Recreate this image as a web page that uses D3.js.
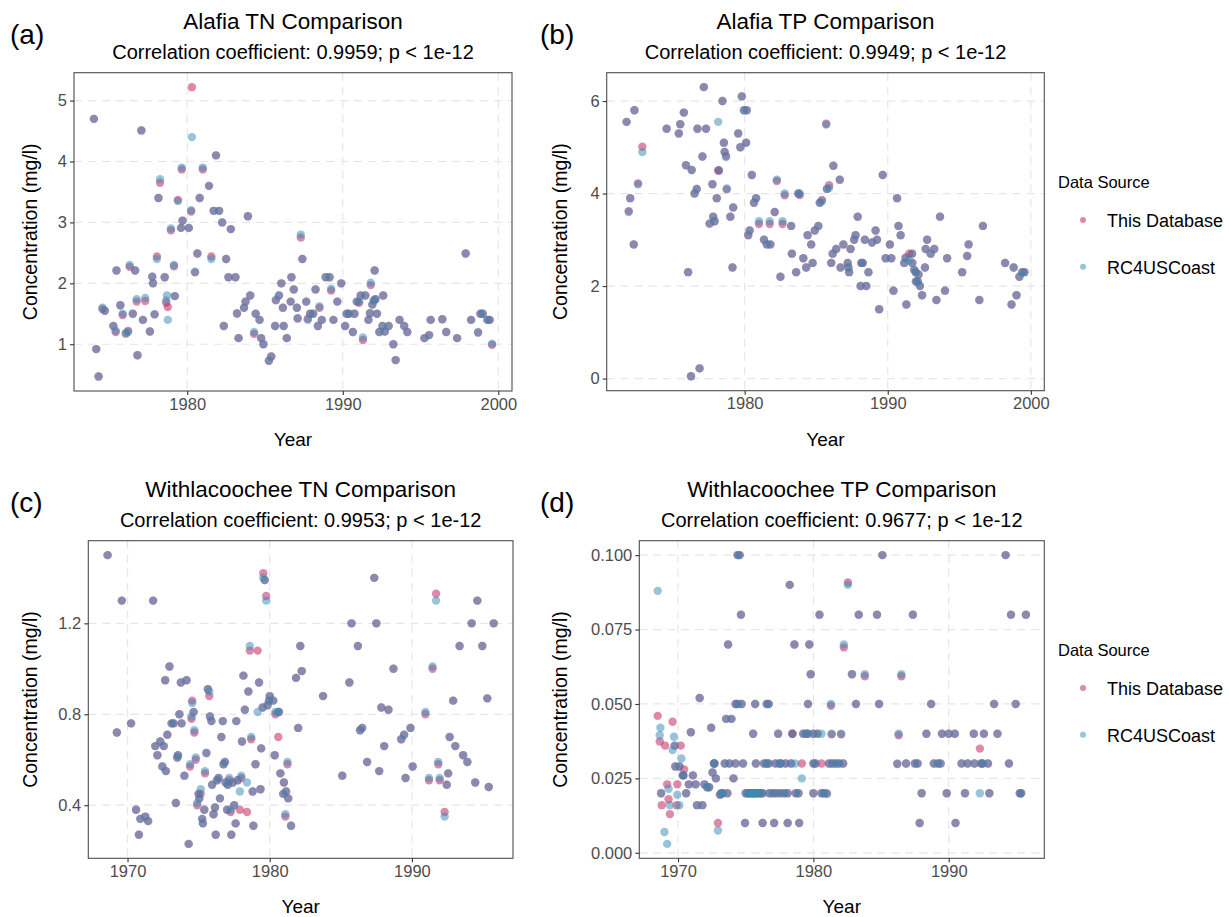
<!DOCTYPE html>
<html>
<head>
<meta charset="utf-8">
<script src="https://cdn.jsdelivr.net/npm/d3@7"></script>
<style>
  body { margin: 0; background: #fff; }
  svg { display: block; font-family: "Liberation Sans", Arial, sans-serif; }
</style>
</head>
<body>
<script>
// ---- data ----
// Alafia TN
var alafiaTnYear = [1974.0,1974.15,1974.3,1974.55,1974.7,1975.25,1975.4,1975.45,1975.7,1975.85,
  1976.05,1976.2,1976.3,1976.5,1976.65,1976.75,1976.8,1977.05,1977.15,1977.3,
  1977.6,1977.75,1977.8,1977.9,1978.05,1978.15,1978.25,1978.55,1978.65,1978.75,
  1978.7,1978.95,1979.15,1979.2,1979.4,1979.6,1979.65,1979.7,1980.1,1980.25,
  1980.3,1980.5,1980.65,1980.8,1981.0,1981.4,1981.55,1981.7,1981.85,1982.05,
  1982.25,1982.35,1982.5,1982.65,1982.8,1983.1,1983.2,1983.3,1983.65,1983.75,
  1983.9,1984.05,1984.3,1984.4,1984.65,1984.75,1984.9,1985.25,1985.4,1985.65,
  1985.7,1985.9,1986.05,1986.15,1986.2,1986.4,1986.65,1986.7,1986.85,1987.05,
  1987.1,1987.3,1987.4,1987.65,1987.75,1987.9,1988.1,1988.25,1988.4,1988.5,
  1988.65,1988.9,1989.15,1989.25,1989.4,1989.65,1989.9,1990.15,1990.25,1990.4,
  1990.65,1990.75,1990.9,1991.05,1991.15,1991.3,1991.45,1991.65,1991.75,1991.8,
  1991.9,1992.0,1992.05,1992.1,1992.2,1992.35,1992.55,1992.6,1992.7,1992.95,
  1993.25,1993.4,1993.65,1993.95,1994.15,1995.25,1995.55,1995.65,1996.4,1996.65,
  1997.35,1997.9,1998.25,1998.7,1998.85,1999.0,1999.3,1999.45,1999.6];
var alafiaTnThisDb = [4.70,0.92,0.47,1.58,1.55,1.30,1.20,2.21,1.64,1.48,
  1.17,1.22,2.27,1.50,2.21,1.70,0.82,4.51,1.40,1.71,
  1.21,2.11,2.00,1.49,2.44,3.40,3.65,2.10,1.68,1.61,
  null,2.87,2.28,1.79,3.37,2.91,3.87,3.03,2.91,3.18,
  5.22,2.18,2.49,3.40,3.87,3.60,2.44,3.19,4.10,3.19,
  3.00,1.30,2.40,2.10,2.89,2.10,1.51,1.10,1.60,1.70,
  3.10,1.80,1.17,1.50,1.40,1.10,1.00,0.73,0.80,1.30,
  1.72,1.80,2.00,1.60,1.30,1.10,1.70,2.10,1.90,1.60,
  1.42,2.75,2.40,1.70,1.42,1.50,1.50,1.90,1.30,1.60,
  1.40,2.10,2.10,1.88,1.40,1.70,2.00,1.30,1.50,1.50,
  1.20,1.50,1.70,1.68,1.80,1.07,1.80,1.40,1.51,1.97,
  1.65,1.72,2.21,1.74,1.50,1.20,1.30,1.80,1.21,1.30,
  1.00,0.74,1.40,1.30,1.20,1.10,1.15,1.40,1.41,1.20,
  1.10,2.49,1.40,1.19,1.50,1.50,1.40,1.40,0.99];
var alafiaTnRc4 = [4.70,0.92,0.47,1.60,1.55,1.30,1.22,2.21,1.64,1.50,
  1.19,1.20,2.30,1.50,2.21,1.74,0.82,4.51,1.40,1.76,
  1.21,2.11,2.00,1.49,2.40,3.40,3.71,2.10,1.72,1.40,
  1.80,2.90,2.30,1.79,3.35,2.91,3.90,3.03,2.91,3.20,
  4.40,2.19,2.49,3.40,3.90,3.60,2.40,3.19,4.10,3.19,
  3.00,1.30,2.40,2.10,2.89,2.10,1.50,1.10,1.60,1.70,
  3.10,1.80,1.20,1.50,1.40,1.10,1.00,0.73,0.80,1.30,
  1.73,1.80,2.00,1.60,1.30,1.10,1.70,2.10,1.90,1.60,
  1.43,2.80,2.40,1.70,1.40,1.50,1.50,1.90,1.30,1.62,
  1.40,2.10,2.10,1.91,1.40,1.70,2.00,1.30,1.50,1.50,
  1.20,1.50,1.70,1.70,1.80,1.11,1.80,1.40,1.51,2.01,
  1.65,1.72,2.21,1.74,1.50,1.20,1.30,1.80,1.21,1.30,
  1.00,0.74,1.40,1.30,1.20,1.10,1.15,1.40,1.41,1.20,
  1.10,2.49,1.40,1.20,1.50,1.50,1.40,1.40,1.01];

// Alafia TP
var alafiaTpYear = [1971.75,1971.9,1972.0,1972.25,1972.3,1972.55,1972.85,1974.55,1975.4,1975.5,
  1975.75,1975.9,1976.05,1976.25,1976.3,1976.5,1976.65,1976.7,1976.85,1977.05,
  1977.15,1977.3,1977.55,1977.75,1977.8,1977.9,1978.05,1978.15,1978.2,1978.45,
  1978.55,1978.6,1978.7,1978.75,1979.0,1979.15,1979.2,1979.55,1979.7,1979.8,
  1979.95,1980.15,1980.1,1980.25,1980.35,1980.5,1980.65,1980.8,1981.0,1981.35,
  1981.55,1981.75,1981.8,1982.1,1982.25,1982.5,1982.65,1982.8,1983.25,1983.3,
  1983.6,1983.75,1983.85,1984.1,1984.3,1984.4,1984.65,1984.75,1984.9,1985.15,
  1985.25,1985.4,1985.7,1985.75,1985.9,1986.05,1986.15,1986.2,1986.4,1986.65,
  1986.7,1986.9,1987.2,1987.25,1987.3,1987.4,1987.65,1987.75,1987.9,1988.1,
  1988.15,1988.25,1988.4,1988.5,1988.65,1988.9,1989.15,1989.25,1989.4,1989.65,
  1989.85,1990.15,1990.25,1990.4,1990.65,1990.75,1990.9,1991.15,1991.25,1991.3,
  1991.5,1991.7,1991.72,1991.85,1991.95,1991.97,1992.1,1992.15,1992.25,1992.4,
  1992.6,1992.65,1992.75,1993.0,1993.25,1993.4,1993.65,1994.0,1994.15,1995.2,
  1995.55,1995.65,1996.4,1996.65,1998.2,1998.65,1998.8,1999.0,1999.2,1999.4,
  1999.55];
var alafiaTpThisDb = [5.55,3.62,3.90,2.90,5.80,4.22,5.01,5.40,5.30,5.50,
  5.75,4.61,2.30,0.05,4.51,4.00,4.10,5.40,0.22,4.80,
  6.30,5.40,3.35,4.20,3.50,3.40,3.90,4.50,4.50,6.00,
  5.10,4.90,4.81,4.09,3.50,2.40,3.70,5.30,5.00,6.10,
  5.80,5.80,5.10,3.10,3.20,4.40,3.80,3.90,3.34,3.00,
  2.90,3.34,2.90,3.60,4.27,2.20,3.34,3.96,3.30,2.70,
  2.30,4.00,3.97,2.60,2.40,3.10,2.90,2.50,3.20,3.30,
  3.80,3.86,5.51,4.10,4.18,2.50,2.70,4.60,2.80,4.30,
  2.40,2.90,2.50,2.40,2.30,2.80,3.00,3.10,3.50,2.00,
  2.50,2.50,3.00,2.00,2.30,2.94,3.20,3.00,1.50,4.40,
  2.60,2.90,2.60,1.90,3.90,3.30,3.10,2.50,2.62,1.60,
  2.70,2.70,2.50,2.35,2.30,2.10,2.10,2.25,2.00,1.80,
  2.40,2.80,3.00,2.70,2.80,1.70,3.50,1.90,2.60,2.30,
  2.65,2.90,1.70,3.30,2.50,1.60,2.40,1.80,2.20,2.30,
  2.30];
var alafiaTpRc4 = [5.55,3.60,3.90,2.90,5.80,4.20,4.90,5.40,5.30,5.50,
  5.75,4.61,2.30,0.05,4.51,4.00,4.10,5.40,0.22,4.80,
  6.30,5.40,3.35,4.20,3.50,3.40,3.90,5.55,4.50,6.00,
  5.10,4.90,4.79,4.11,3.50,2.40,3.70,5.30,5.00,6.10,
  5.80,5.80,5.10,3.10,3.20,4.40,3.80,3.90,3.40,3.00,
  2.90,3.40,2.90,3.60,4.30,2.20,3.40,4.00,3.30,2.70,
  2.30,4.00,4.00,2.60,2.40,3.10,2.90,2.50,3.20,3.30,
  3.80,3.83,5.49,4.10,4.12,2.50,2.70,4.60,2.80,4.30,
  2.40,2.90,2.50,2.40,2.30,2.80,3.00,3.10,3.50,2.00,
  2.50,2.50,3.00,2.00,2.30,2.94,3.20,3.00,1.50,4.40,
  2.60,2.90,2.60,1.90,3.90,3.30,3.10,2.50,2.60,1.60,
  2.55,2.70,2.50,2.35,2.30,2.10,2.10,2.25,2.00,1.80,
  2.40,2.80,3.00,2.70,2.80,1.70,3.50,1.90,2.60,2.30,
  2.65,2.90,1.70,3.30,2.50,1.60,2.40,1.80,2.20,2.30,
  2.30];

// Withlacoochee TN
var withTnYear = [1968.6,1969.25,1969.6,1970.25,1970.6,1970.8,1970.9,1971.25,1971.45,1971.8,
  1971.95,1972.1,1972.3,1972.45,1972.55,1972.65,1972.7,1972.8,1972.95,1973.1,
  1973.25,1973.4,1973.5,1973.55,1973.65,1973.75,1973.8,1974.0,1974.15,1974.3,
  1974.4,1974.5,1974.55,1974.65,1974.7,1974.8,1974.9,1975.0,1975.05,1975.15,
  1975.25,1975.3,1975.4,1975.45,1975.55,1975.65,1975.75,1975.8,1975.9,1975.95,
  1976.05,1976.15,1976.2,1976.3,1976.4,1976.5,1976.6,1976.7,1976.75,1976.85,
  1976.9,1977.0,1977.05,1977.15,1977.25,1977.3,1977.4,1977.5,1977.6,1977.65,
  1977.75,1977.9,1978.0,1978.05,1978.15,1978.25,1978.4,1978.5,1978.6,1978.7,
  1978.8,1978.85,1979.0,1979.15,1979.25,1979.35,1979.4,1979.5,1979.55,1979.65,
  1979.75,1979.85,1979.95,1980.0,1980.25,1980.35,1980.4,1980.6,1980.65,1980.75,
  1980.95,1981.0,1981.1,1981.15,1981.25,1981.3,1981.5,1981.85,1982.0,1982.15,
  1982.25,1983.75,1985.1,1985.6,1985.75,1986.2,1986.35,1986.5,1986.85,1987.35,
  1987.5,1987.7,1987.85,1988.05,1988.35,1988.7,1989.25,1989.45,1989.55,1989.9,
  1990.05,1990.95,1991.2,1991.45,1991.7,1991.85,1991.95,1992.3,1992.45,1992.55,
  1992.65,1992.9,1993.05,1993.35,1993.6,1993.9,1994.2,1994.45,1994.6,1994.95,
  1995.3,1995.4,1995.75];
var withTnThisDb = [1.50,0.72,1.30,0.76,0.38,0.27,0.34,0.35,0.33,1.30,
  0.66,0.62,0.68,0.57,0.66,0.95,0.55,0.71,1.01,0.76,
  0.76,0.41,0.61,0.62,0.80,0.94,0.76,0.53,0.95,0.23,
  0.57,0.78,0.86,0.81,0.72,0.60,0.40,0.45,0.43,0.45,
  0.34,0.32,0.38,0.54,0.63,0.91,0.88,0.79,0.77,0.49,
  0.36,0.39,0.27,0.51,0.52,0.43,0.70,0.77,0.58,0.59,
  0.50,0.38,0.49,0.51,0.37,0.27,0.50,0.40,0.32,0.77,
  0.51,0.38,0.52,0.68,0.97,0.82,0.37,0.90,1.08,0.69,
  0.46,0.31,0.58,1.08,0.94,0.47,0.65,0.83,1.42,1.39,
  1.32,0.84,0.86,0.88,0.86,0.62,0.80,0.70,0.81,0.54,
  0.45,0.50,0.35,0.46,0.58,0.43,0.31,0.96,0.74,1.10,
  0.99,0.88,0.53,0.94,1.20,1.10,0.73,0.74,0.59,1.40,
  1.20,0.55,0.83,0.66,0.82,1.00,0.69,0.71,0.52,0.74,
  0.57,0.80,0.51,1.00,1.33,0.58,0.51,0.37,0.49,0.54,
  0.70,0.86,0.66,1.10,0.62,0.59,1.20,0.50,1.30,1.10,
  0.87,0.48,1.20];
var withTnRc4 = [1.50,0.72,1.30,0.76,0.38,0.27,0.34,0.35,0.33,1.30,
  0.66,0.62,0.68,0.57,0.66,0.95,0.55,0.71,1.01,0.76,
  0.76,0.41,0.61,0.62,0.80,0.94,0.76,0.53,0.95,0.23,
  0.58,0.79,0.85,0.81,0.73,0.61,0.41,0.45,0.43,0.47,
  0.34,0.32,0.38,0.55,0.63,0.91,0.90,0.79,0.77,0.49,
  0.36,0.39,0.27,0.51,0.52,0.43,0.70,0.77,0.58,0.59,
  0.50,0.38,0.49,0.52,0.38,0.27,0.50,0.40,0.32,0.77,
  0.51,0.46,0.53,0.68,0.97,0.82,0.50,0.90,1.10,0.70,
  0.46,0.31,0.58,0.81,0.94,0.47,0.65,0.83,1.40,1.39,
  1.30,0.84,0.86,0.88,0.86,0.62,0.81,0.81,0.81,0.54,
  0.45,0.50,0.36,0.46,0.59,0.43,0.31,0.96,0.74,1.10,
  0.99,0.88,0.53,0.94,1.20,1.10,0.73,0.74,0.59,1.40,
  1.20,0.55,0.83,0.66,0.82,1.00,0.69,0.71,0.52,0.74,
  0.57,0.81,0.52,1.01,1.30,0.59,0.52,0.35,0.49,0.54,
  0.70,0.86,0.66,1.10,0.62,0.59,1.20,0.50,1.30,1.10,
  0.87,0.48,1.20];

// Withlacoochee TP
var withTpYear = [1968.5,1968.5,1968.7,1968.65,1968.65,1968.75,1968.8,1969.05,1969.0,1969.2,
  1969.2,1969.3,1969.3,1969.4,1969.4,1969.6,1969.7,1969.6,1969.75,1969.8,
  1969.95,1969.95,1969.9,1970.1,1970.2,1970.25,1970.1,1970.45,1970.35,1970.4,
  1970.6,1970.8,1970.95,1971.1,1971.3,1971.4,1971.8,1971.6,1971.95,1972.15,
  1972.3,1972.45,1972.55,1972.65,1972.7,1972.8,1972.95,1973.1,1973.2,1973.3,
  1973.45,1973.55,1973.7,1973.65,1973.8,1973.95,1974.1,1974.25,1974.25,1974.4,
  1974.55,1974.65,1974.4,1974.7,1974.8,1975.55,1975.7,1975.75,1976.35,1976.55,
  1976.7,1976.55,1976.7,1977.2,1977.4,1977.5,1977.6,1977.95,1978.25,1978.35,
  1978.45,1978.45,1978.6,1978.65,1979.15,1979.15,1979.25,1979.45,1979.6,1979.6,
  1979.7,1979.8,1980.0,1980.0,1980.15,1980.3,1980.45,1980.6,1980.6,1981.15,
  1981.3,1981.35,1981.4,1981.65,1981.9,1982.05,1982.2,1982.25,1982.55,1982.85,
  1983.15,1983.35,1983.8,1984.7,1984.85,1985.1,
  1975.0,1975.15,1975.25,1975.4,1975.5,1975.6,1975.7,1975.8,1976.0,1976.1,
  1976.25,1976.75,1977.0,1977.25,1977.55,1977.85,1978.1,1978.7,1978.9,1980.0,
  1980.6,1980.8,1981.0,1974.95,1976.25,1977.1,1978.1,1978.95,
  1986.2,1986.3,1986.5,1986.85,1987.35,1987.5,1987.7,1987.85,1988.0,1988.35,
  1988.7,1988.9,1989.2,1989.4,1989.5,1989.85,1990.0,1990.45,1990.5,1990.95,
  1991.2,1991.4,1991.85,1991.9,1992.3,1992.3,1992.4,1992.5,1992.6,1992.9,
  1993.0,1993.35,1993.6,1994.2,1994.45,1994.6,1994.95,1995.25,1995.35,1995.7];
var withTpThisDb = [null,0.046,null,null,0.0374,0.020,0.016,0.036,null,null,
  0.023,null,0.018,0.013,null,0.044,null,null,0.036,0.029,
  0.023,null,0.016,null,0.036,null,0.029,0.028,0.026,0.026,
  0.020,0.023,0.0405,0.026,0.023,0.016,0.016,0.052,0.023,0.022,
  0.022,0.042,0.027,0.030,0.030,0.025,0.010,0.0195,0.020,0.020,
  0.030,0.045,0.070,0.020,0.030,0.045,0.025,0.050,0.030,0.100,
  0.100,0.080,0.050,0.050,0.030,0.040,0.050,0.030,0.030,0.030,
  0.030,0.050,0.050,0.030,0.040,0.030,0.030,0.030,0.090,0.030,
  0.040,0.040,0.070,null,0.030,null,0.040,0.040,0.040,0.050,
  0.070,0.060,0.040,0.030,0.030,0.040,0.080,null,0.030,0.030,
  0.0494,0.0398,0.030,0.030,0.030,0.0398,0.030,0.069,0.0908,0.060,
  0.050,0.080,0.0593,0.080,0.050,0.100,
  0.020,0.020,0.020,0.020,0.020,0.020,0.020,0.020,0.020,0.020,
  0.020,0.020,0.020,0.020,0.020,0.020,0.020,0.020,0.020,0.020,
  0.020,0.020,0.0198,0.010,0.010,0.010,0.010,0.010,
  0.0298,0.0395,0.0593,0.030,0.080,0.030,0.030,0.010,0.020,0.040,
  0.050,0.030,0.030,0.030,0.040,0.020,0.040,0.040,0.010,0.030,
  0.020,0.030,0.040,0.030,0.035,null,0.030,0.030,0.040,0.030,
  0.020,0.050,0.040,0.100,0.030,0.080,0.050,0.020,0.020,0.080];
var withTpRc4 = [0.088,null,0.042,0.0395,null,0.020,null,null,0.007,0.003,
  null,0.0215,null,null,0.016,null,0.039,0.0345,0.036,0.029,
  null,0.0195,null,0.016,null,0.0317,0.029,null,0.026,0.026,
  0.020,0.023,0.0405,0.026,0.023,0.016,0.016,0.052,0.023,0.022,
  0.022,0.042,0.027,0.030,0.030,0.025,0.0075,0.0195,0.020,0.020,
  0.030,0.045,0.070,0.020,0.030,0.045,0.025,0.050,0.030,0.100,
  0.100,0.080,0.050,0.050,0.030,0.040,0.050,0.030,0.030,0.030,
  0.030,0.050,0.050,0.030,0.040,0.030,0.030,0.030,0.090,0.030,
  0.040,null,0.070,0.030,null,0.025,0.040,0.040,0.040,0.050,
  0.070,0.060,0.040,0.030,0.030,0.040,0.080,0.040,null,0.030,
  0.050,0.040,0.030,0.030,0.030,0.040,0.030,0.070,0.090,0.060,
  0.050,0.080,0.060,0.080,0.050,0.100,
  0.020,0.020,0.020,0.020,0.020,0.020,0.020,0.020,0.020,0.020,
  0.020,0.020,0.020,0.020,0.020,0.020,0.020,0.020,0.020,0.020,
  0.020,0.020,0.020,0.010,0.010,0.010,0.010,0.010,
  0.030,0.040,0.060,0.030,0.080,0.030,0.030,0.010,0.020,0.040,
  0.050,0.030,0.030,0.030,0.040,0.020,0.040,0.040,0.010,0.030,
  0.020,0.030,0.040,0.030,null,0.020,0.030,0.030,0.040,0.030,
  0.020,0.050,0.040,0.100,0.030,0.080,0.050,0.020,0.020,0.080];

// tick values
var alafiaTnYTicks = [1, 2, 3, 4, 5];
var alafiaTpYTicks = [0, 2, 4, 6];
var withTnYTicks = [0.4, 0.8, 1.2];
var withTpYTicks = [0, 0.025, 0.05, 0.075, 0.1];
var alafiaXTicks = [1980, 1990, 2000];
var withXTicks = [1970, 1980, 1990];

var sourceNames = ["This Database", "RC4USCoast"];
var sourceColors = ["#c01c5c", "#3a8cb4"];
var pointAlpha = 0.52;

var W = 1229, H = 917;
var FONT = "'Liberation Sans', Arial, sans-serif";

var svg = d3.select("body").append("svg")
  .attr("width", W).attr("height", H)
  .style("background", "#fff");

var panels = [
  { tag: "(a)", title: "Alafia TN Comparison", sub: "Correlation coefficient: 0.9959; p < 1e-12",
    year: alafiaTnYear, a: alafiaTnThisDb, b: alafiaTnRc4, yTicks: alafiaTnYTicks, xTicks: alafiaXTicks,
    fmt: d3.format("d"), box: [74, 512, 72.7, 391], ox: 0, legend: false },
  { tag: "(b)", title: "Alafia TP Comparison", sub: "Correlation coefficient: 0.9949; p < 1e-12",
    year: alafiaTpYear, a: alafiaTpThisDb, b: alafiaTpRc4, yTicks: alafiaTpYTicks, xTicks: alafiaXTicks,
    fmt: d3.format("d"), box: [606.7, 1044.3, 72.7, 390.7], ox: 530, legend: true },
  { tag: "(c)", title: "Withlacoochee TN Comparison", sub: "Correlation coefficient: 0.9953; p < 1e-12",
    year: withTnYear, a: withTnThisDb, b: withTnRc4, yTicks: withTnYTicks, xTicks: withXTicks,
    fmt: d3.format(".1f"), box: [88.3, 513, 540.7, 858.3], ox: 0, legend: false },
  { tag: "(d)", title: "Withlacoochee TP Comparison", sub: "Correlation coefficient: 0.9677; p < 1e-12",
    year: withTpYear, a: withTpThisDb, b: withTpRc4, yTicks: withTpYTicks, xTicks: withXTicks,
    fmt: d3.format(".3f"), box: [639.3, 1044.3, 540.7, 858.3], ox: 530, legend: true }
];

panels.forEach(drawPanel);

function drawPanel(p) {
  var L = p.box[0], R = p.box[1], T = p.box[2], B = p.box[3];
  var g = svg.append("g");

  // ggplot style 5% expansion
  var vals = p.a.concat(p.b).filter(function (v) { return v != null; });
  var xe = d3.extent(p.year), ye = d3.extent(vals);
  var xp = (xe[1] - xe[0]) * 0.05, yp = (ye[1] - ye[0]) * 0.05;
  var x = d3.scaleLinear().domain([xe[0] - xp, xe[1] + xp]).range([L, R]);
  var y = d3.scaleLinear().domain([ye[0] - yp, ye[1] + yp]).range([B, T]);

  // grid
  g.selectAll(".gx").data(p.xTicks).join("line")
    .attr("x1", function (d) { return x(d); }).attr("x2", function (d) { return x(d); })
    .attr("y1", T).attr("y2", B)
    .attr("stroke", "#e6e6e6").attr("stroke-width", 1.2).attr("stroke-dasharray", "8,6");
  g.selectAll(".gy").data(p.yTicks).join("line")
    .attr("y1", function (d) { return y(d); }).attr("y2", function (d) { return y(d); })
    .attr("x1", L).attr("x2", R)
    .attr("stroke", "#e6e6e6").attr("stroke-width", 1.2).attr("stroke-dasharray", "8,6");

  // points: this database first, RC4USCoast on top
  [p.a, p.b].forEach(function (series, k) {
    var pts = p.year.map(function (yr, i) { return { x: yr, v: series[i] }; })
      .filter(function (d) { return d.v != null; });
    g.append("g").selectAll("circle").data(pts).join("circle")
      .attr("cx", function (d) { return x(d.x); })
      .attr("cy", function (d) { return y(d.v); })
      .attr("r", 4.2)
      .attr("fill", sourceColors[k])
      .attr("fill-opacity", pointAlpha);
  });

  // panel border
  g.append("rect").attr("x", L).attr("y", T).attr("width", R - L).attr("height", B - T)
    .attr("fill", "none").attr("stroke", "#4d4d4d").attr("stroke-width", 1.1);

  // axes
  var ax = g.append("g").attr("transform", "translate(0," + B + ")")
    .call(d3.axisBottom(x).tickValues(p.xTicks).tickSize(4).tickPadding(3).tickFormat(d3.format("d")));
  var ay = g.append("g").attr("transform", "translate(" + L + ",0)")
    .call(d3.axisLeft(y).tickValues(p.yTicks).tickSize(4).tickPadding(3).tickFormat(p.fmt));
  [ax, ay].forEach(function (a) {
    a.select(".domain").remove();
    a.selectAll("line").attr("stroke", "#333").attr("stroke-width", 1.1);
    a.selectAll("text").attr("fill", "#4d4d4d").style("font-size", "16.5px").style("font-family", FONT);
  });

  var cx = (L + R) / 2;
  g.append("text").attr("x", cx).attr("y", T - 43.5).attr("text-anchor", "middle")
    .style("font-size", "22.5px").attr("fill", "#000").text(p.title);
  g.append("text").attr("x", cx).attr("y", T - 13.5).attr("text-anchor", "middle")
    .style("font-size", "20px").attr("fill", "#000").text(p.sub);
  g.append("text").attr("x", p.ox + 10).attr("y", T - 29).style("font-size", "28px")
    .attr("fill", "#000").text(p.tag);

  // axis titles
  g.append("text").attr("x", cx).attr("y", B + 55).attr("text-anchor", "middle")
    .style("font-size", "19px").attr("fill", "#000").text("Year");
  g.append("text")
    .attr("transform", "translate(" + (p.ox + 37) + "," + ((T + B) / 2) + ") rotate(-90)")
    .attr("text-anchor", "middle").style("font-size", "19.5px").attr("fill", "#000")
    .text("Concentration (mg/l)");

  if (p.legend) {
    var lg = g.append("g");
    lg.append("text").attr("x", 1058).attr("y", T + 114.8).style("font-size", "16.5px")
      .attr("fill", "#000").text("Data Source");
    sourceNames.forEach(function (name, k) {
      var yy = T + 147.3 + k * 46.7;
      lg.append("circle").attr("cx", 1083).attr("cy", yy).attr("r", 3)
        .attr("fill", sourceColors[k]).attr("fill-opacity", pointAlpha);
      lg.append("text").attr("x", 1107).attr("y", yy + 7).style("font-size", "18px")
        .attr("fill", "#000").text(name);
    });
  }
}
</script>
</body>
</html>
